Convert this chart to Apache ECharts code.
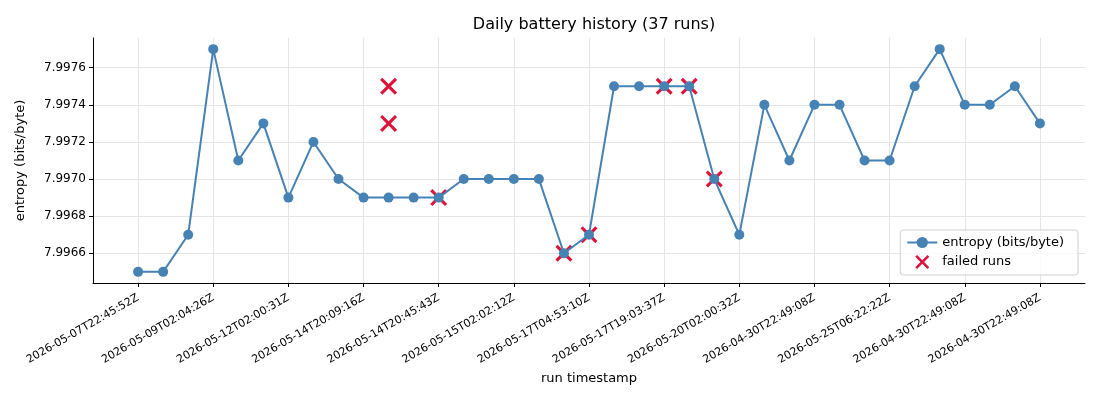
<!DOCTYPE html>
<html>
<head>
<meta charset="utf-8">
<script src="https://cdn.jsdelivr.net/npm/echarts@6/dist/echarts.min.js"></script>
<style>
  html, body { margin: 0; padding: 0; background: #fff; }
  #chart { width: 1100px; height: 400px; }
</style>
</head>
<body>
<div id="chart"></div>
<script>
// run timestamps shown on the x axis (every third run)
var tickRuns = [0, 3, 6, 9, 12, 15, 18, 21, 24, 27, 30, 33, 36];
var tickLabels = [
    '2026-05-07T22:45:52Z', '2026-05-09T02:04:26Z', '2026-05-12T02:00:31Z',
    '2026-05-14T20:09:16Z', '2026-05-14T20:45:43Z', '2026-05-15T02:02:12Z',
    '2026-05-17T04:53:10Z', '2026-05-17T19:03:37Z', '2026-05-20T02:00:32Z',
    '2026-04-30T22:49:08Z', '2026-05-25T06:22:22Z', '2026-04-30T22:49:08Z',
    '2026-04-30T22:49:08Z'
];

// entropy per run
var entropy = [
    7.9965, 7.9965, 7.9967, 7.9977, 7.9971, 7.9973, 7.9969, 7.9972, 7.9970, 7.9969,
    7.9969, 7.9969, 7.9969, 7.9970, 7.9970, 7.9970, 7.9970, 7.9966, 7.9967, 7.9975,
    7.9975, 7.9975, 7.9975, 7.9970, 7.9967, 7.9974, 7.9971, 7.9974, 7.9974, 7.9971,
    7.9971, 7.9975, 7.9977, 7.9974, 7.9974, 7.9975, 7.9973
];

// failed runs: run index and entropy
var failedRun = [10, 10, 12, 17, 18, 21, 22, 23];
var failedVal = [7.9975, 7.9973, 7.9969, 7.9966, 7.9967, 7.9975, 7.9975, 7.9970];

var yTicks = [7.9966, 7.9968, 7.9970, 7.9972, 7.9974, 7.9976];

var crossPath = 'path://M1.3,0L5,3.7L8.7,0L10,1.3L6.3,5L10,8.7L8.7,10L5,6.3L1.3,10L0,8.7L3.7,5L0,1.3Z';

var lineData = entropy.map(function (v, i) { return [i, v]; });
var failData = failedRun.map(function (r, i) { return [r, failedVal[i]]; });

var chart = echarts.init(document.getElementById('chart'));
var font = 'DejaVu Sans';

var op = {
    animation: false,
    textStyle: { fontFamily: font },
    title: {
        text: 'Daily battery history (37 runs)',
        left: 589,
        top: 12,
        textAlign: 'center',
        textStyle: { fontFamily: font, fontSize: 16, fontWeight: 'normal', color: '#000' }
    },
    grid: {
        left: 93,
        right: 15,
        top: 38,
        bottom: 117
    },
    legend: {
        orient: 'vertical',
        right: 22,
        bottom: 125,
        padding: [6, 14, 6, 6],
        itemGap: 6,
        itemWidth: 30,
        itemHeight: 14,
        borderColor: '#d0d0d0',
        borderWidth: 1,
        borderRadius: 3,
        backgroundColor: 'rgba(255,255,255,0.8)',
        textStyle: { fontFamily: font, fontSize: 13, color: '#000' },
        data: [
            { name: 'entropy (bits/byte)' },
            { name: 'failed runs', icon: crossPath, itemStyle: { color: '#DC143C' } }
        ]
    },
    xAxis: {
        type: 'value',
        min: -1.8,
        max: 37.8,
        name: 'run timestamp',
        nameLocation: 'middle',
        nameGap: 88,
        nameTextStyle: { fontFamily: font, fontSize: 13, color: '#000' },
        axisLine: { show: true, onZero: false, lineStyle: { color: '#000', width: 1 } },
        axisTick: { show: true, length: 4, customValues: tickRuns, lineStyle: { color: '#000' } },
        axisLabel: {
            customValues: tickRuns,
            rotate: 30,
            fontSize: 11,
            color: '#000',
            fontFamily: font,
            margin: 14,
            formatter: function (v) {
                var k = tickRuns.indexOf(Math.round(v));
                return k >= 0 ? tickLabels[k] : '';
            }
        },
        splitLine: { show: true, lineStyle: { color: '#e5e5e5', width: 1 } }
    },
    yAxis: {
        type: 'value',
        min: 7.99644,
        max: 7.99776,
        name: 'entropy (bits/byte)',
        nameLocation: 'middle',
        nameGap: 66,
        nameTextStyle: { fontFamily: font, fontSize: 13, color: '#000' },
        axisLine: { show: true, onZero: false, lineStyle: { color: '#000', width: 1 } },
        axisTick: { show: true, length: 4, customValues: yTicks, lineStyle: { color: '#000' } },
        axisLabel: {
            customValues: yTicks,
            fontSize: 12,
            color: '#000',
            fontFamily: font,
            margin: 7,
            formatter: function (v) { return v.toFixed(4); }
        },
        splitLine: { show: true, lineStyle: { color: '#e5e5e5', width: 1 } }
    },
    series: [
        {
            name: 'failed runs',
            type: 'scatter',
            z: 1,
            symbol: crossPath,
            symbolSize: 17,
            itemStyle: { color: '#DC143C', opacity: 1 },
            data: failData
        },
        {
            name: 'entropy (bits/byte)',
            type: 'line',
            z: 2,
            symbol: 'circle',
            symbolSize: 10,
            showAllSymbol: true,
            lineStyle: { color: '#4682B4', width: 2 },
            itemStyle: { color: '#4682B4', borderWidth: 0 },
            data: lineData
        }
    ]
};
chart.setOption(op);
</script>
</body>
</html>
